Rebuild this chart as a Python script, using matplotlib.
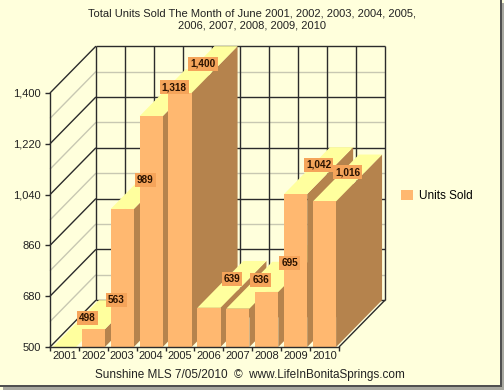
import matplotlib
matplotlib.use("Agg")
import matplotlib.pyplot as plt
from matplotlib.patches import Polygon, Rectangle, Patch
from matplotlib.ticker import FixedLocator, FuncFormatter, NullFormatter

plt.rcParams["font.family"] = ["Liberation Sans", "DejaVu Sans"]

# --- data -----------------------------------------------------------------
years = ["2001", "2002", "2003", "2004", "2005",
         "2006", "2007", "2008", "2009", "2010"]
units_sold = [498, 563, 989, 1318, 1400, 639, 636, 695, 1042, 1016]
y_major = [500, 680, 860, 1040, 1220, 1400]
y_minor = [590, 770, 950, 1130, 1310]
series_name = "Units Sold"
title = ("Total Units Sold The Month of June 2001, 2002, 2003, 2004, 2005,\n"
         "2006, 2007, 2008, 2009, 2010")
footer = "Sunshine MLS 7/05/2010  \u00a9  www.LifeInBonitaSprings.com"

# --- style ------------------------------------------------------------------
BG = "#FFFFDC"
FRONT = "#FFB870"
SIDE = "#B5834D"
TOP = "#FFFF9E"
LABEL_BG = "#F5A45A"
DARK = "#2B2B2B"
MINOR = "#C8C8B2"

Y_MIN, Y_MAX = 500, 1400
DX, DY = 1.59, 166     # 3D depth offset in data units
BAR_W = 0.8

fig = plt.figure(figsize=(5.04, 3.9), dpi=100, facecolor=BG)
ax = fig.add_axes([50 / 504, 43 / 390, 289 / 504, 254 / 390])
n = len(years)
ax.set_xlim(0, n)
ax.set_ylim(Y_MIN, Y_MAX)
ax.patch.set_alpha(0)


def line(xs, ys, color=DARK, lw=1.0, z=1):
    ax.plot(xs, ys, color=color, lw=lw, clip_on=False, zorder=z,
            solid_capstyle="butt")


# walls: minor lines first, then major ones
for v in y_minor:
    line([0, DX], [v, v + DY], MINOR)
    line([DX, n + DX], [v + DY, v + DY], MINOR)
for v in y_major:
    line([0, DX], [v, v + DY])
    line([DX, n + DX], [v + DY, v + DY])
for k in range(n + 1):
    line([k + DX, k + DX], [Y_MIN + DY, Y_MAX + DY])
line([n, n + DX], [Y_MIN, Y_MIN + DY])

# bars, left to right so later bars cover earlier side faces
for i, v in enumerate(units_sold):
    h = max(v, Y_MIN)
    x0 = i + (1 - BAR_W) / 2
    x1 = x0 + BAR_W
    z = 3 + i
    ax.add_patch(Polygon([(x1, Y_MIN), (x1 + DX, Y_MIN + DY),
                          (x1 + DX, h + DY), (x1, h)],
                         fc=SIDE, ec="none", clip_on=False, zorder=z))
    ax.add_patch(Polygon([(x0, h), (x1, h), (x1 + DX, h + DY),
                          (x0 + DX, h + DY)],
                         fc=TOP, ec="none", clip_on=False, zorder=z))
    ax.add_patch(Rectangle((x0, Y_MIN), BAR_W, h - Y_MIN,
                           fc=FRONT, ec="none", clip_on=False, zorder=z))

for i, v in enumerate(units_sold):
    h = max(v, Y_MIN)
    ax.text(i + 0.5 + DX / 2, h + DY / 2 + 20, f"{v:,}",
            ha="center", va="center", fontsize=7.2, fontweight="bold",
            color="#2A1200", zorder=30, clip_on=False,
            bbox=dict(boxstyle="square,pad=0.2", fc=LABEL_BG, ec="none"))

# axes
for s in ["top", "right"]:
    ax.spines[s].set_visible(False)
for s in ["left", "bottom"]:
    ax.spines[s].set_color(DARK)
    ax.spines[s].set_linewidth(1.0)
    ax.spines[s].set_zorder(20)

ax.yaxis.set_major_locator(FixedLocator(y_major))
ax.yaxis.set_major_formatter(FuncFormatter(lambda v, p: f"{v:,.0f}"))
ax.tick_params(axis="y", length=3.6, width=1, color=DARK, pad=3,
               labelsize=8, labelcolor="#222222")

ax.xaxis.set_major_locator(FixedLocator(range(n + 1)))
ax.xaxis.set_major_formatter(NullFormatter())
ax.xaxis.set_minor_locator(FixedLocator([i + 0.5 for i in range(n)]))
ax.set_xticklabels(years, minor=True)
ax.tick_params(axis="x", which="major", length=3, width=1, color=DARK)
ax.tick_params(axis="x", which="minor", length=0, pad=3,
               labelsize=8, labelcolor="#222222")

# texts
fig.text(0.5, 1 - 8 / 390, title, ha="center", va="top", fontsize=8,
         color="#222222", linespacing=1.25)
fig.text(250 / 504, 1 - 375 / 390, footer, ha="center", va="center",
         fontsize=8.5, color="#222222")

fig.legend(handles=[Patch(fc=FRONT, ec="none", label=series_name)],
           loc="center left", bbox_to_anchor=(401 / 504, 1 - 196 / 390),
           frameon=False, fontsize=8.5, handlelength=1.0, handleheight=1.0,
           handletextpad=0.5, borderpad=0, borderaxespad=0)

# frame with drop shadow on right and bottom
def frame_rect(x, y, w, h, color):
    fig.add_artist(Rectangle((x / 504, 1 - (y + h) / 390), w / 504, h / 390,
                             transform=fig.transFigure, fc=color, ec="none"))


frame_rect(502, 3, 2, 387, "#A8A8A0")
frame_rect(3, 387, 501, 3, "#A8A8A0")
frame_rect(500, 0, 2, 387, "#505050")
frame_rect(0, 385, 502, 2, "#505050")

fig.savefig("out.png", dpi=100, facecolor=BG)
